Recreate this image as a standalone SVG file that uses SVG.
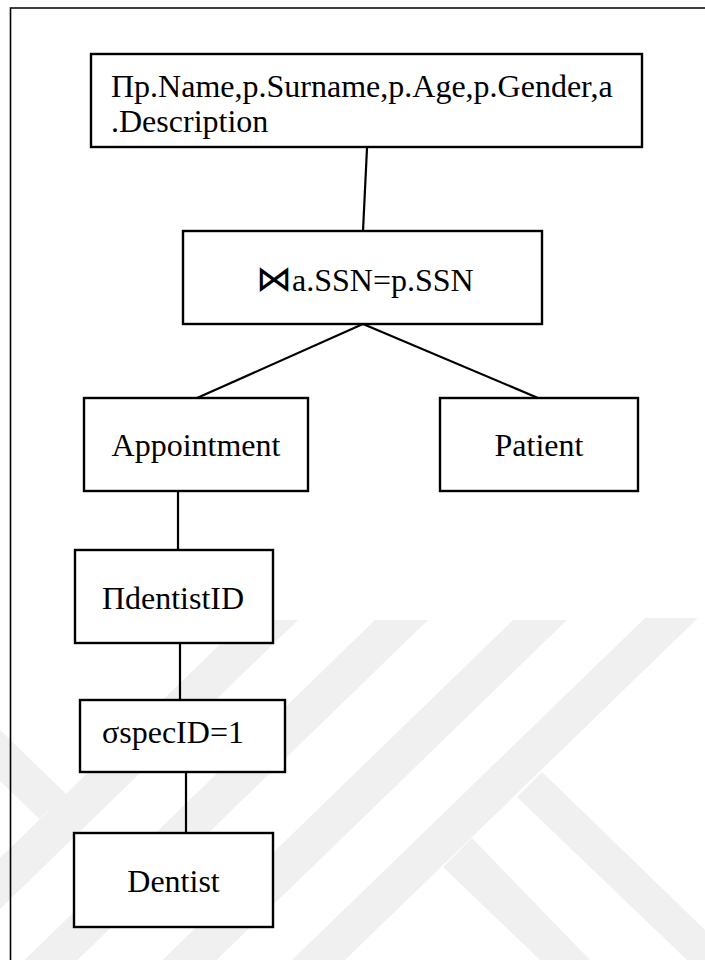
<svg xmlns="http://www.w3.org/2000/svg" width="705" height="960" viewBox="0 0 705 960">
<style>
.box{fill:#ffffff;stroke:#000000;stroke-width:2.4}
.lbl{font-size:32px;fill:#000000}
.mid{text-anchor:middle}
.wm{fill:#f0f0f0}
.con line{stroke:#000000;stroke-width:2.2}
.frame{stroke:#000000;stroke-width:1.6;fill:none}
</style>
<rect width="705" height="960" fill="#ffffff"/>
<g id="watermark">
<polygon class="wm" points="245,620 298,620 0,909 0,858"/>
<polygon class="wm" points="375,620 428,620 77.5,960 24.5,960"/>
<polygon class="wm" points="513,620 567,620 216.5,960 162.5,960"/>
<polygon class="wm" points="645,618 698,618 345,960 292,960"/>
<polygon class="wm" points="542,772 705,930 705,960 687,960 517,797"/>
<polygon class="wm" points="472,838 590,960 540,960 443,867"/>
<polygon class="wm" points="0,730 66,794 39.5,819 0,781"/>
</g>
<g id="frame">
<polyline class="frame" points="10.5,960 10.5,8 705,8"/>
</g>
<g id="connectors" class="con">
<line x1="367" y1="148" x2="363" y2="231"/>
<line x1="363" y1="324" x2="197" y2="398"/>
<line x1="363" y1="324" x2="538" y2="398"/>
<line x1="178" y1="491" x2="178" y2="550"/>
<line x1="180" y1="643" x2="180" y2="700"/>
<line x1="186" y1="772" x2="186" y2="833"/>
</g>
<g font-family="'Liberation Serif', 'Times New Roman', 'DejaVu Serif', serif">
<g id="projection-top">
<rect class="box" x="91" y="54" width="551" height="93"/>
<text class="lbl" x="111" y="97">Πp.Name,p.Surname,p.Age,p.Gender,a</text>
<text class="lbl" x="111" y="132">.Description</text>
</g>
<g id="join">
<rect class="box" x="183" y="231" width="359" height="93"/>
<text class="lbl" x="256" y="291"><tspan font-family="'DejaVu Serif', serif" font-size="36">⋈</tspan>a.SSN=p.SSN</text>
</g>
<g id="appointment">
<rect class="box" x="84" y="398" width="224" height="93"/>
<text class="lbl mid" x="196" y="456">Appointment</text>
</g>
<g id="patient">
<rect class="box" x="440" y="398" width="198" height="93"/>
<text class="lbl mid" x="539" y="456">Patient</text>
</g>
<g id="projection-dentist">
<rect class="box" x="75" y="550" width="198" height="93"/>
<text class="lbl mid" x="173" y="609">ΠdentistID</text>
</g>
<g id="selection">
<rect class="box" x="80" y="700" width="205" height="72"/>
<text class="lbl" x="102" y="743">σspecID=1</text>
</g>
<g id="dentist">
<rect class="box" x="74" y="833" width="199" height="94"/>
<text class="lbl mid" x="173.5" y="892">Dentist</text>
</g>
</g>
</svg>
